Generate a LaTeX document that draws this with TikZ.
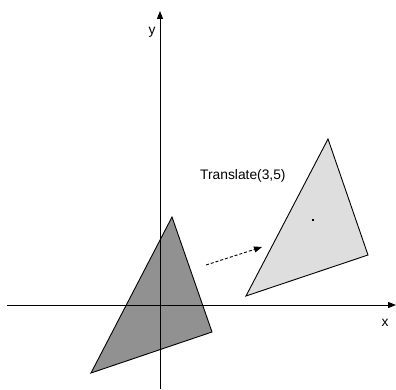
\documentclass[tikz,border=0pt]{standalone}
\usepackage{fontspec}
\setmainfont{Liberation Sans}
\usetikzlibrary{arrows.meta}
\definecolor{shapedark}{HTML}{919191}
\definecolor{shapelight}{HTML}{DEDEDE}
\begin{document}
\begin{tikzpicture}[x=1pt, y=-1pt,
  axis/.style={-{Triangle[length=8pt,width=6pt]}, line width=1pt, draw=black},
  tri/.style={draw=black, line width=0.9pt, line join=miter},
  lbl/.style={font=\fontsize{13.8}{16}\selectfont, inner sep=0pt},
  arr/.style={-{Triangle[length=8pt,width=6pt]}, dash pattern=on 3pt off 2pt, line width=0.9pt}
]
\useasboundingbox (0,0) rectangle (396,390);
% original triangle
\coordinate (pa) at (172,217);
\coordinate (pb) at (212,332);
\coordinate (pc) at (91,373);
% translated triangle
\coordinate (qa) at (328,139);
\coordinate (qb) at (368,255);
\coordinate (qc) at (246,296);
\filldraw[tri, fill=shapedark] (pa) -- (pb) -- (pc) -- cycle;
\filldraw[tri, fill=shapelight] (qa) -- (qb) -- (qc) -- cycle;
\node[fill=black, inner sep=0pt, minimum size=2pt] (center) at (313,220) {};
% axes
\coordinate (xstart) at (7,305);
\coordinate (xend) at (396,305);
\coordinate (ystart) at (160,389);
\coordinate (yend) at (160,11);
\draw[axis] (xstart) -- (xend);
\draw[axis] (ystart) -- (yend);
\node[lbl, anchor=base] (xlabel) at (385,326) {x};
\node[lbl, anchor=base] (ylabel) at (152,35) {y};
% translation
\coordinate (from) at (206,265);
\coordinate (to) at (262,247);
\draw[arr] (from) -- (to);
\node[lbl, anchor=base west] (translate) at (200,180) {Translate(3,5)};
\end{tikzpicture}
\end{document}
